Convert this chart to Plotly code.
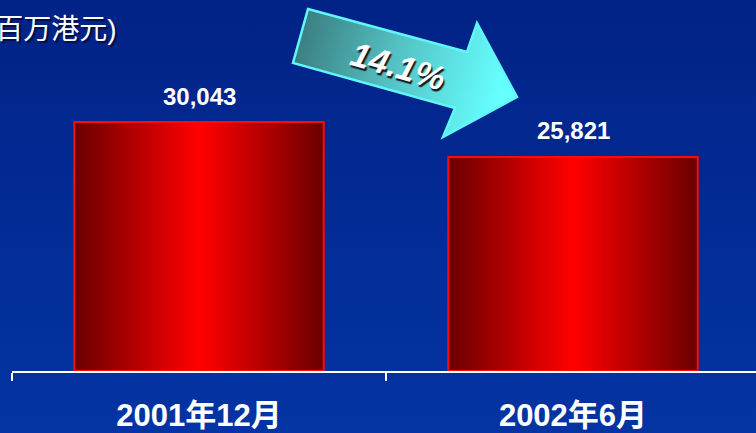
import base64
import plotly.graph_objects as go

# ---- data ----
categories = ["2001年12月", "2002年6月"]
values = [30043, 25821]
change_label = "14.1%"
unit_label = "(百万港元)"

# ---- geometry helpers (layout only) ----
W, H = 756, 433
ML, MR, MT, MB = 12, 0, 0, 62
plot_w = W - ML - MR
plot_h = H - MT - MB
px_per_cat = 374.0
x_range = [-0.5, -0.5 + plot_w / px_per_cat]
y_max = plot_h * values[0] / 249.0

def px_x(p):
    return (p - ML) / plot_w

def px_y(p):
    return 1 - (p - MT) / plot_h

# ---- background + arrow as svg decoration ----
svg = f'''<svg xmlns="http://www.w3.org/2000/svg" width="{W}" height="{H}" viewBox="0 0 {W} {H}" preserveAspectRatio="none">
<defs>
<linearGradient id="bg" x1="0" y1="0" x2="0" y2="1">
<stop offset="0" stop-color="#012286"/>
<stop offset="1" stop-color="#0434a3"/>
</linearGradient>
<linearGradient id="ar" gradientUnits="userSpaceOnUse" x1="296" y1="36" x2="500" y2="92">
<stop offset="0" stop-color="#3a7c7e"/>
<stop offset="0.5" stop-color="#55c4c6"/>
<stop offset="1" stop-color="#66ffff"/>
</linearGradient>
</defs>
<rect x="0" y="0" width="{W}" height="{H}" fill="url(#bg)"/>
<polygon points="308,9 467,52 477,23 517,97 443,137 455,108 293,63" fill="url(#ar)" stroke="#5ff7fb" stroke-width="2.5" stroke-linejoin="miter"/>
</svg>'''
svg_uri = "data:image/svg+xml;base64," + base64.b64encode(svg.encode()).decode()

fig = go.Figure()

# gradient bars: nested overlays from dark edges to bright centre
N = 50
bar_w = 0.667
dark = (0x6c, 0x00, 0x00)
bright = (0xff, 0x00, 0x00)
for i in range(N):
    t = i / (N - 1)
    c = tuple(round(dark[k] + (bright[k] - dark[k]) * t) for k in range(3))
    fig.add_trace(go.Bar(
        x=categories, y=values,
        width=[bar_w * (1 - i / N)] * len(values),
        marker=dict(color="rgb(%d,%d,%d)" % c, line=dict(width=0)),
        hoverinfo="skip", showlegend=False,
    ))
# outline
fig.add_trace(go.Bar(
    x=categories, y=values, width=[bar_w] * len(values),
    marker=dict(color="rgba(0,0,0,0)", line=dict(color="#ff0a0a", width=2)),
    hoverinfo="skip", showlegend=False,
))

annotations = []
for c, v in zip(categories, values):
    annotations.append(dict(
        x=c, y=v, xref="x", yref="y", text=f"{v:,}", showarrow=False,
        yshift=26, yanchor="middle",
        font=dict(family="Liberation Sans, Arial, sans-serif", size=24, color="white", weight=700),
    ))

annotations.append(dict(
    x=px_x(398), y=px_y(66), xref="paper", yref="paper", text=change_label,
    showarrow=False, textangle=16, xanchor="center", yanchor="middle",
    font=dict(family="Liberation Sans, Arial, sans-serif", size=34, color="white",
              weight=700, style="italic", shadow="2px 2px 1px #1a1a1a"),
))
annotations.append(dict(
    x=px_x(119), y=px_y(30), xref="paper", yref="paper", text=unit_label,
    showarrow=False, xanchor="right", yanchor="middle",
    font=dict(family="Liberation Sans, 'Noto Sans CJK SC', sans-serif", size=28, color="white",
              shadow="2px 2px 1px rgba(0,0,0,0.55)"),
))

fig.update_layout(
    width=W, height=H,
    margin=dict(l=ML, r=MR, t=MT, b=MB, pad=0),
    barmode="overlay",
    paper_bgcolor="#012a94",
    plot_bgcolor="rgba(0,0,0,0)",
    images=[dict(
        source=svg_uri, xref="paper", yref="paper",
        x=px_x(0), y=px_y(0), sizex=W / plot_w, sizey=H / plot_h,
        xanchor="left", yanchor="top", sizing="stretch", layer="below",
    )],
    annotations=annotations,
    xaxis=dict(
        type="category", categoryorder="array", categoryarray=categories,
        range=x_range, showgrid=False, zeroline=False,
        showline=True, linecolor="white", linewidth=2,
        ticks="outside", tickson="boundaries", ticklen=8, tickcolor="white", tickwidth=2,
        ticklabelstandoff=16,
        tickfont=dict(family="Liberation Sans, Arial, 'Noto Sans CJK SC', sans-serif",
                      size=31, color="white", weight=700),
        fixedrange=True,
    ),
    yaxis=dict(range=[0, y_max], visible=False, fixedrange=True),
    showlegend=False,
)

fig.write_html("out.html", config={"displayModeBar": False},
               post_script="document.body.style.margin='0';document.body.style.overflow='hidden';")
